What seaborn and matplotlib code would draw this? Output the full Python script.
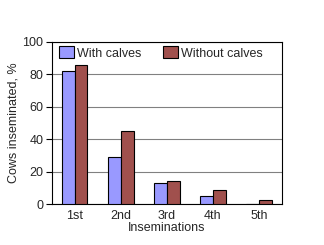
import matplotlib
matplotlib.use("Agg")
import matplotlib.pyplot as plt
import seaborn as sns
import pandas as pd
import numpy as np

categories = ["1st", "2nd", "3rd", "4th", "5th"]
with_calves = [82, 29, 13, 5, 0]
without_calves = [86, 45, 14, 8.5, 2.5]
series = ["With calves", "Without calves"]

df = pd.DataFrame({
    "Inseminations": categories * 2,
    "value": with_calves + without_calves,
    "group": [series[0]] * len(categories) + [series[1]] * len(categories),
})

sns.set_style("white")
plt.rcParams['font.family'] = ['Liberation Sans', 'DejaVu Sans']

fig = plt.figure(figsize=(3.24, 2.45), dpi=100)
ax = fig.add_axes([0.160, 0.167, 0.710, 0.662])

sns.barplot(data=df, x="Inseminations", y="value", hue="group",
            palette=["#9999FF", "#A0504D"], saturation=1, width=0.55,
            edgecolor="black", linewidth=0.8, ax=ax, errorbar=None, zorder=3)

ax.set_ylim(0, 100)
ax.set_xlim(-0.5, 4.5)
ax.set_yticks([0, 20, 40, 60, 80, 100])
ax.yaxis.grid(True, color="#808080", linewidth=0.8, zorder=0)
ax.set_axisbelow(True)
for s in ax.spines.values():
    s.set_color("black")
    s.set_linewidth(0.8)

ax.set_xticks(range(5))
ax.set_xticklabels(categories)
ax.set_xticks(np.arange(-0.5, 5.0, 1.0), minor=True)
ax.tick_params(axis="x", which="major", length=0, labelsize=9, pad=4)
ax.tick_params(axis="x", which="minor", length=4, direction="inout", color="black", width=0.8)
ax.tick_params(axis="y", which="major", length=4, direction="out", color="black", width=0.8, labelsize=9, left=True, pad=2)

ax.set_xlabel("Inseminations", fontsize=9, labelpad=0)
ax.set_ylabel("Cows inseminated, %", fontsize=9, labelpad=2)

leg = ax.legend(loc="upper left", ncol=2, frameon=False, fontsize=9,
                handlelength=1.2, handleheight=1.1, columnspacing=1.75,
                handletextpad=0.25, borderaxespad=0.0, borderpad=0.35,
                bbox_to_anchor=(0.01, 1.0))

fig.savefig("out.png", dpi=100)
